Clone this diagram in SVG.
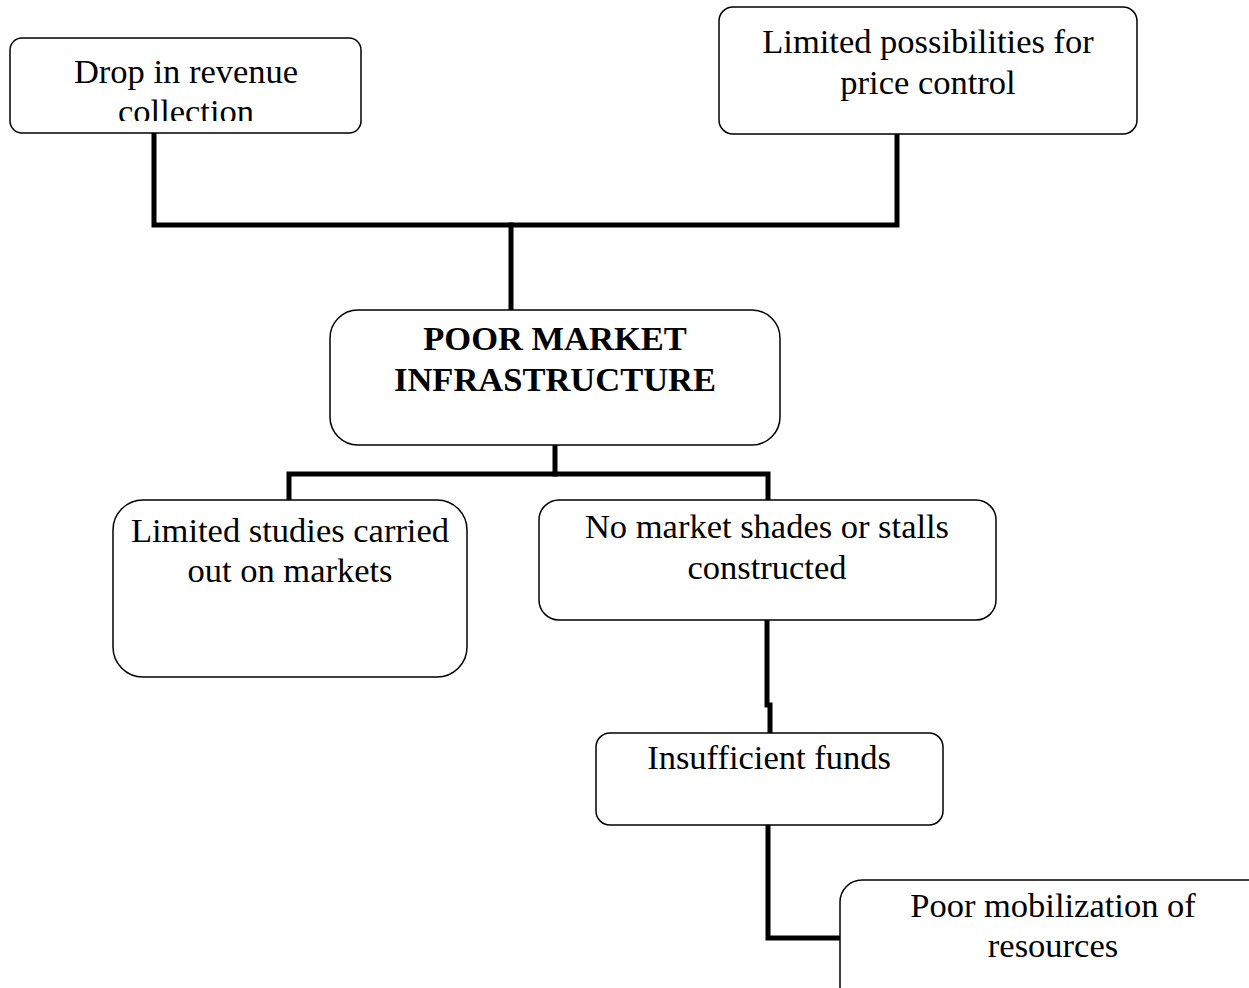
<svg xmlns="http://www.w3.org/2000/svg" width="1249" height="988" viewBox="0 0 1249 988">
  <style>
    .box { fill: #ffffff; stroke: #000000; stroke-width: 1.5; }
    .lbl { font-family: "Liberation Serif", "Times New Roman", serif; font-size: 34.5px; fill: #000000; text-anchor: middle; }
    .bold { font-weight: bold; }
    .wire { fill: none; stroke: #000000; stroke-width: 5; stroke-linecap: square; }
  </style>
  <defs>
    <clipPath id="clip-revenue">
      <rect x="10" y="38" width="351" height="83"/>
    </clipPath>
  </defs>
  <rect width="1249" height="988" fill="#ffffff"/>

  <g id="connectors">
    <polyline class="wire" points="154,134 154,225 897,225 897,134"/>
    <line class="wire" x1="511" y1="225" x2="511" y2="310"/>
    <line class="wire" x1="555" y1="445" x2="555" y2="474"/>
    <polyline class="wire" points="289,500 289,474 768,474 768,500"/>
    <polyline class="wire" points="767,620 767,705"/>
    <polyline class="wire" points="770,705 770,733"/>
    <polyline class="wire" points="768,825 768,938 840,938"/>
  </g>

  <g id="node-revenue">
    <rect class="box" x="10" y="38" width="351" height="95" rx="12"/>
    <g clip-path="url(#clip-revenue)">
      <text class="lbl" x="186" y="83">Drop in revenue</text>
      <text class="lbl" x="186" y="123">collection</text>
    </g>
  </g>

  <g id="node-price">
    <rect class="box" x="719" y="7" width="418" height="127" rx="14"/>
    <text class="lbl" x="928" y="53">Limited possibilities for</text>
    <text class="lbl" x="928" y="94">price control</text>
  </g>

  <g id="node-core">
    <rect class="box" x="330" y="310" width="450" height="135" rx="28"/>
    <text class="lbl bold" x="555" y="350">POOR MARKET</text>
    <text class="lbl bold" x="555" y="391">INFRASTRUCTURE</text>
  </g>

  <g id="node-studies">
    <rect class="box" x="113" y="500" width="354" height="177" rx="30"/>
    <text class="lbl" x="290" y="542">Limited studies carried</text>
    <text class="lbl" x="290" y="582">out on markets</text>
  </g>

  <g id="node-stalls">
    <rect class="box" x="539" y="500" width="457" height="120" rx="20"/>
    <text class="lbl" x="767" y="538">No market shades or stalls</text>
    <text class="lbl" x="767" y="579">constructed</text>
  </g>

  <g id="node-funds">
    <rect class="box" x="596" y="733" width="347" height="92" rx="14"/>
    <text class="lbl" x="769" y="769">Insufficient funds</text>
  </g>

  <g id="node-mobilization">
    <rect class="box" x="840" y="880" width="440" height="140" rx="22"/>
    <text class="lbl" x="1053" y="917">Poor mobilization of</text>
    <text class="lbl" x="1053" y="957">resources</text>
  </g>
</svg>
